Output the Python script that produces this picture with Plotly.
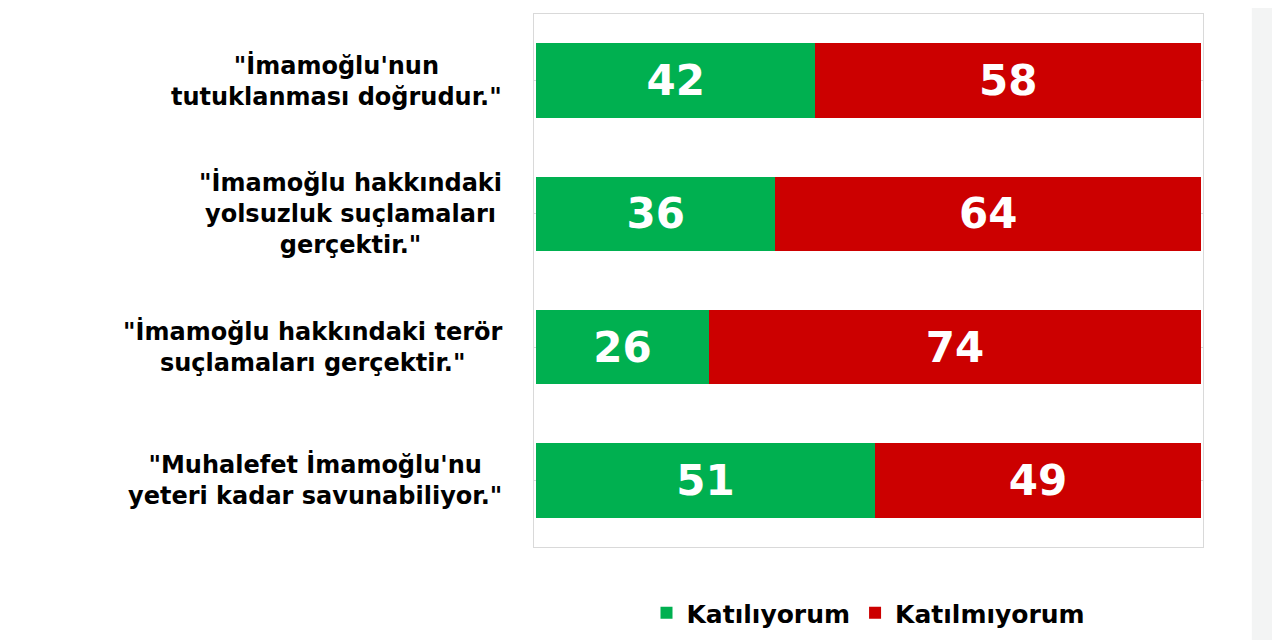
import plotly.graph_objects as go

# Anket sonuçları (%)
statements = [
    '"İmamoğlu\'nun<br>tutuklanması doğrudur."',
    '"İmamoğlu hakkındaki<br>yolsuzluk suçlamaları<br>gerçektir."',
    '"İmamoğlu hakkındaki terör<br>suçlamaları gerçektir."',
    '"Muhalefet İmamoğlu\'nu<br>yeteri kadar savunabiliyor."',
]
agree = [42, 36, 26, 51]
disagree = [58, 64, 74, 49]

cats = [0, 1, 2, 3]
font_name = "DejaVu Sans"

fig = go.Figure()
fig.add_trace(go.Bar(
    y=cats, x=agree, orientation="h", name="Katılıyorum",
    marker=dict(color="#00b050", line=dict(width=0)),
    text=agree, textposition="inside", insidetextanchor="middle",
    textfont=dict(family=font_name, size=42, color="white", weight="bold"),
))
fig.add_trace(go.Bar(
    y=cats, x=disagree, orientation="h", name="Katılmıyorum",
    marker=dict(color="#cc0000", line=dict(width=0)),
    text=disagree, textposition="inside", insidetextanchor="middle",
    textfont=dict(family=font_name, size=42, color="white", weight="bold"),
))

# soldaki ifadeler, satırlar ortalı
for i, s in enumerate(statements):
    fig.add_annotation(
        x=-0.045, xref="paper", xanchor="right",
        y=cats[i], yref="y", yanchor="middle",
        text=s, showarrow=False, align="center",
        font=dict(family=font_name, size=24, color="black", weight="bold"),
    )

# sağdaki gri şerit
fig.add_shape(type="rect", xref="paper", yref="paper",
              x0=1.073, x1=1.25, y0=-0.3, y1=1.2,
              fillcolor="#f3f4f4", line=dict(width=0), layer="below")

fig.update_layout(
    barmode="stack",
    bargap=0.44,
    width=1280, height=640,
    margin=dict(l=526, r=85, t=6, b=101),
    paper_bgcolor="white", plot_bgcolor="white",
    showlegend=True,
    legend=dict(orientation="h", traceorder="normal", x=0.5, xanchor="center",
                y=-0.124, yanchor="middle",
                font=dict(family=font_name, size=25, color="black", weight="bold"),
                itemwidth=30),
    xaxis=dict(range=[-0.3, 100.3], showticklabels=False, showgrid=False, zeroline=False,
               showline=True, mirror=True, linecolor="#d9d9d9", linewidth=1, ticks=""),
    yaxis=dict(range=[3.5, -0.5], tickvals=cats, showticklabels=False, tickson="boundaries",
               showgrid=True, gridcolor="#d9d9d9", gridwidth=1, zeroline=False,
               showline=True, mirror=True, linecolor="#d9d9d9", linewidth=1, ticks=""),
)

fig.write_html("out.html")
